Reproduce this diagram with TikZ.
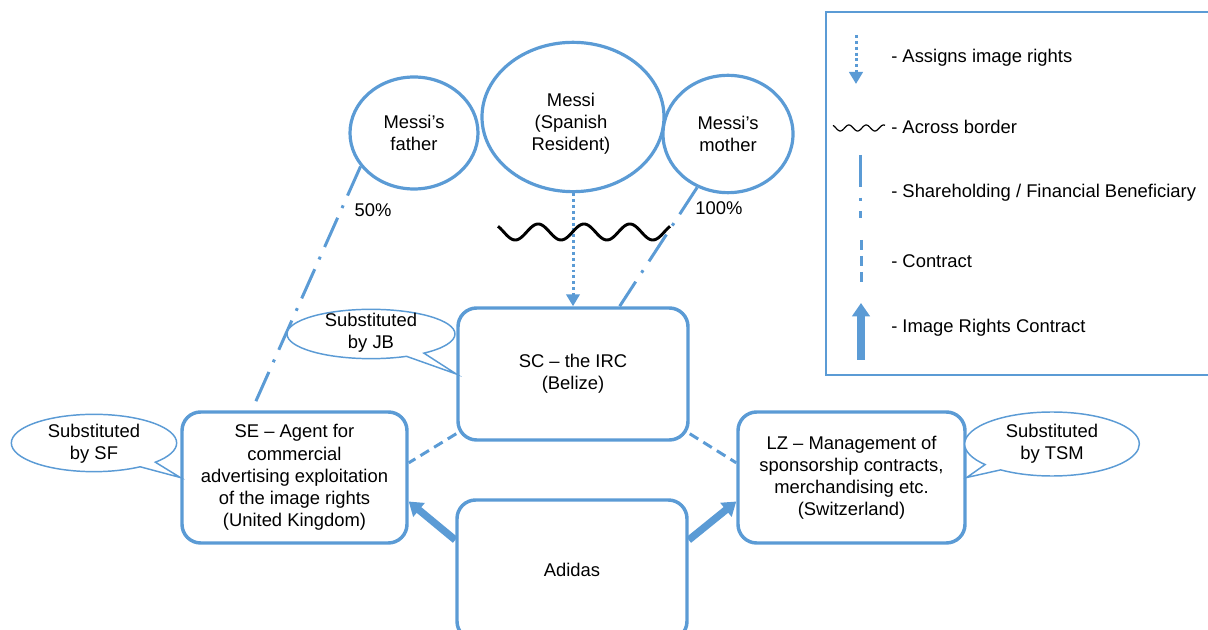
\documentclass[tikz,border=0pt]{standalone}
\usepackage{fontspec}
\setmainfont{Liberation Sans}
\usetikzlibrary{arrows.meta,shapes.geometric,shapes.callouts}
\definecolor{obl}{RGB}{91,155,213}
\begin{document}
\begin{tikzpicture}[x=0.75pt,y=-0.75pt,
 font=\fontsize{13.8}{16.6}\selectfont,
 txt/.style={align=center, inner sep=0pt},
 person/.style={ellipse, draw=obl, line width=2.4pt, inner sep=0pt, align=center},
 entity/.style={draw=obl, line width=2.6pt, rounded corners=14pt, inner sep=0pt, align=center, fill=white},
 bubble/.style={ellipse callout, draw=obl, line width=1.1pt, fill=white, inner sep=0pt, callout pointer arc=14},
 share/.style={draw=obl, line width=2.25pt, dash pattern=on 24pt off 8pt on 2.2pt off 8pt},
 contract/.style={draw=obl, line width=2.25pt, dash pattern=on 7.5pt off 4.5pt},
 assigns/.style={draw=obl, line width=2.25pt, dash pattern=on 2.2pt off 2.2pt, -{Triangle[width=10pt,length=9pt]}},
 irc/.style={draw=obl, line width=5.5pt, -{Triangle[width=13pt,length=10pt]}},
 wave/.style={draw=black, line width=2.2pt},
 legtxt/.style={anchor=west, inner sep=0pt},
]
\useasboundingbox (0,0) rectangle (1208,630);
\clip (0,0) rectangle (1208,630);

% persons
\node[person, minimum width=96pt, minimum height=84pt] (father) at (414,133) {Messi’s\\father};
\node[person, minimum width=136.5pt, minimum height=112pt] (messi) at (573,117) {};
\node[txt] (messit) at (571,124) {Messi\\(Spanish\\Resident)};
\node[person, minimum width=97.5pt, minimum height=88pt] (mother) at (728,134) {Messi’s\\mother};

% entities
\node[entity, minimum width=172.5pt, minimum height=99pt] (sc) at (573,374) {SC – the IRC\\(Belize)};
\node[entity, minimum width=168.75pt, minimum height=98.25pt] (se) at (294.5,477.5) {SE – Agent for\\commercial\\advertising exploitation\\of the image rights\\(United Kingdom)};
\node[entity, minimum width=170.25pt, minimum height=98.25pt] (lz) at (851.5,477.5) {LZ – Management of\\sponsorship contracts,\\merchandising etc.\\(Switzerland)};
\node[entity, minimum width=172.5pt, minimum height=105pt] (adidas) at (572,570) {Adidas};

% connectors
\draw[share] (father.212) -- ([xshift=-32pt]se.north);
\draw[share] (mother.240) -- ([xshift=35pt]sc.north);
\draw[assigns] (messi.south) -- (sc.north);
\draw[wave] plot[domain=498:670, samples=150, smooth] (\x, {232-8*sin(135+(\x-498)*7.849)});
\draw[contract] ([yshift=6pt]sc.south west) -- ([yshift=11pt]se.east);
\draw[contract] ([yshift=6pt]sc.south east) -- ([yshift=11pt]lz.west);
\draw[irc] ([yshift=22.5pt]adidas.west) -- ([yshift=-18pt]se.east);
\draw[irc] ([yshift=22.5pt]adidas.east) -- ([yshift=-18pt]lz.west);

\node[txt] (p50) at (373,210) {50\%};
\node[txt] (p100) at (719,208) {100\%};

% callouts
\node[bubble, minimum width=126pt, minimum height=37pt, callout absolute pointer=(sc.west)] (jb) at (371,334) {};
\node[txt] (jbt) at (371,333) {Substituted\\by JB};
\node[bubble, minimum width=124pt, minimum height=43pt, callout absolute pointer=(se.west)] (sf) at (94,443) {};
\node[txt] (sft) at (94,444) {Substituted\\by SF};
\node[bubble, minimum width=131pt, minimum height=48pt, callout absolute pointer=(lz.east)] (tsm) at (1052,444) {};
\node[txt] (tsmt) at (1052,444) {Substituted\\by TSM};

% legend
\draw[obl, line width=1.1pt] (826,12) rectangle (1214,375);
\coordinate (la1) at (856,35); \coordinate (la2) at (856,84);
\draw[assigns] (la1) -- (la2);
\node[legtxt] (l1) at (891,58) {- Assigns image rights};
\draw[black, line width=0.9pt] plot[domain=833:885, samples=80, smooth] (\x, {128-3*sin(120+(\x-833)*20.77)});
\node[legtxt] (l2) at (891,127) {- Across border};
\coordinate (ls1) at (860,155); \coordinate (ls2) at (860,218);
\draw[share] (ls1) -- (ls2);
\node[legtxt] (l3) at (891,193) {- Shareholding / Financial Beneficiary};
\coordinate (lc1) at (861,240); \coordinate (lc2) at (861,283);
\draw[contract] (lc1) -- (lc2);
\node[legtxt] (l4) at (891,261) {- Contract};
\coordinate (lr1) at (861,360); \coordinate (lr2) at (861,303);
\draw[irc] (lr1) -- (lr2);
\node[legtxt] (l5) at (891,328) {- Image Rights Contract};
\end{tikzpicture}
\end{document}
